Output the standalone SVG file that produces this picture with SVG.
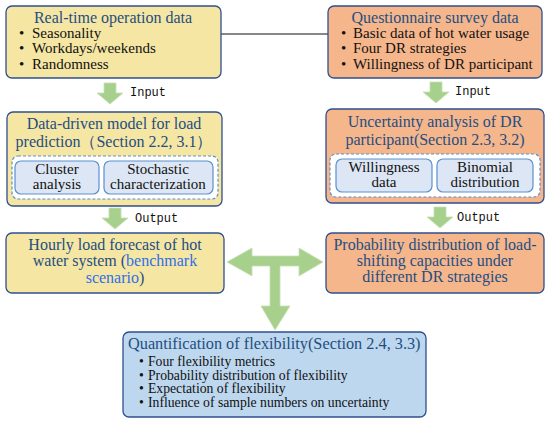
<svg xmlns="http://www.w3.org/2000/svg" width="550" height="423" viewBox="0 0 550 423">
<defs>
<style>
.box{stroke:#2F4F8F;stroke-width:1.3}
.y{fill:#F5E6A3}
.o{fill:#F5B68C}
.b{fill:#BDD7EE}
.dash{fill:#FFFFFF;stroke:#5B8FD0;stroke-width:1.2;stroke-dasharray:3 2}
.inner{fill:#DCE6F4;stroke:#5B8FD0;stroke-width:1.2}
.arr{fill:#A8D08D;stroke:#C5E0B4;stroke-width:0.8}
.t{font-family:"Liberation Serif",serif;fill:#1F4E82;font-size:16px}
.tc{text-anchor:middle}
.l{font-family:"Liberation Serif",serif;fill:#111111;font-size:15px}
.s{font-family:"Liberation Serif",serif;fill:#111111;font-size:15px;text-anchor:middle}
.q{font-family:"Liberation Serif",serif;fill:#111111;font-size:13.7px}
.lab{font-family:"Liberation Mono",monospace;fill:#111111;font-size:12px}
.hl{fill:#2E6FE8}
</style>
<path id="darr" d="M-6,0 H6 V10 H13 L0,21 L-13,10 H-6 Z"/>
<marker id="ah" markerWidth="8" markerHeight="8" refX="7" refY="4" orient="auto" markerUnits="userSpaceOnUse">
<path d="M0,1 L8,4 L0,7 Z" fill="#111111"/>
</marker>
</defs>
<rect width="550" height="423" fill="#FFFFFF"/>

<g id="connectors">
<line x1="221" y1="34" x2="340" y2="34" stroke="#111111" stroke-width="1" marker-end="url(#ah)"/>
<use href="#darr" x="110" y="83" class="arr"/>
<use href="#darr" x="436" y="82" class="arr"/>
<use href="#darr" x="115" y="208" class="arr"/>
<use href="#darr" x="440" y="207" class="arr"/>
<path class="arr" d="M227,262 L252,248 V256 H299 V248 L323,262 L299,276 V266 H280 V306 H290 L275,330 L261,306 H270 V266 H252 V276 Z"/>
<text class="lab" x="130" y="96">Input</text>
<text class="lab" x="455" y="95">Input</text>
<text class="lab" x="135" y="222">Output</text>
<text class="lab" x="457" y="221">Output</text>
</g>

<g id="n1">
<rect class="box y" x="6" y="6" width="215" height="72" rx="6"/>
<text class="t tc" x="113" y="23">Real-time operation data</text>
<text class="l" x="19" y="38">•<tspan x="32">Seasonality</tspan></text>
<text class="l" x="19" y="53">•<tspan x="32">Workdays/weekends</tspan></text>
<text class="l" x="19" y="69">•<tspan x="32">Randomness</tspan></text>
</g>

<g id="n2">
<rect class="box o" x="328" y="6" width="214" height="72" rx="6"/>
<text class="t tc" x="435" y="23">Questionnaire survey data</text>
<text class="l" x="341" y="38">•<tspan x="353">Basic data of hot water usage</tspan></text>
<text class="l" x="341" y="53">•<tspan x="353">Four DR strategies</tspan></text>
<text class="l" x="341" y="69">•<tspan x="353">Willingness of DR participant</tspan></text>
</g>

<g id="n3">
<rect class="box y" x="7" y="112" width="215" height="94" rx="6"/>
<text class="t tc" x="114" y="129">Data-driven model for load</text>
<text class="t tc" x="114" y="147">prediction（Section 2.2, 3.1）</text>
<rect class="dash" x="12" y="156" width="206" height="43" rx="6"/>
<g id="n3a">
<rect class="inner" x="15" y="161" width="84" height="33" rx="6"/>
<text class="s" x="57" y="174">Cluster</text>
<text class="s" x="57" y="189">analysis</text>
</g>
<g id="n3b">
<rect class="inner" x="104" y="161" width="109" height="33" rx="6"/>
<text class="s" x="158" y="174">Stochastic</text>
<text class="s" x="158" y="189">characterization</text>
</g>
</g>

<g id="n4">
<rect class="box o" x="326" y="109" width="218" height="94" rx="6"/>
<text class="t tc" x="435" y="127">Uncertainty analysis of DR</text>
<text class="t tc" x="435" y="145">participant(Section 2.3, 3.2)</text>
<rect class="dash" x="330" y="154" width="210" height="43" rx="6"/>
<g id="n4a">
<rect class="inner" x="336" y="159" width="96" height="33" rx="6"/>
<text class="s" x="384" y="172">Willingness</text>
<text class="s" x="384" y="187">data</text>
</g>
<g id="n4b">
<rect class="inner" x="437" y="159" width="96" height="33" rx="6"/>
<text class="s" x="485" y="172">Binomial</text>
<text class="s" x="485" y="187">distribution</text>
</g>
</g>

<g id="n5">
<rect class="box y" x="6" y="233" width="218" height="60" rx="6"/>
<text class="t tc" x="115" y="250">Hourly load forecast of hot</text>
<text class="t tc" x="115" y="266">water system (<tspan class="hl">benchmark</tspan></text>
<text class="t tc" x="115" y="283"><tspan class="hl">scenario</tspan>)</text>
</g>

<g id="n6">
<rect class="box o" x="326" y="233" width="218" height="60" rx="6"/>
<text class="t tc" x="435" y="250">Probability distribution of load-</text>
<text class="t tc" x="435" y="266">shifting capacities under</text>
<text class="t tc" x="435" y="282">different DR strategies</text>
</g>

<g id="n7">
<rect class="box b" x="123" y="332" width="303" height="85" rx="6"/>
<text class="t" x="128" y="349" style="font-size:16.3px">Quantification of flexibility(Section 2.4, 3.3)</text>
<text class="q" x="139" y="366">•<tspan x="148">Four flexibility metrics</tspan></text>
<text class="q" x="139" y="379.5">•<tspan x="148">Probability distribution of flexibility</tspan></text>
<text class="q" x="139" y="393">•<tspan x="148">Expectation of flexibility</tspan></text>
<text class="q" x="139" y="406.5">•<tspan x="148">Influence of sample numbers on uncertainty</tspan></text>
</g>
</svg>
